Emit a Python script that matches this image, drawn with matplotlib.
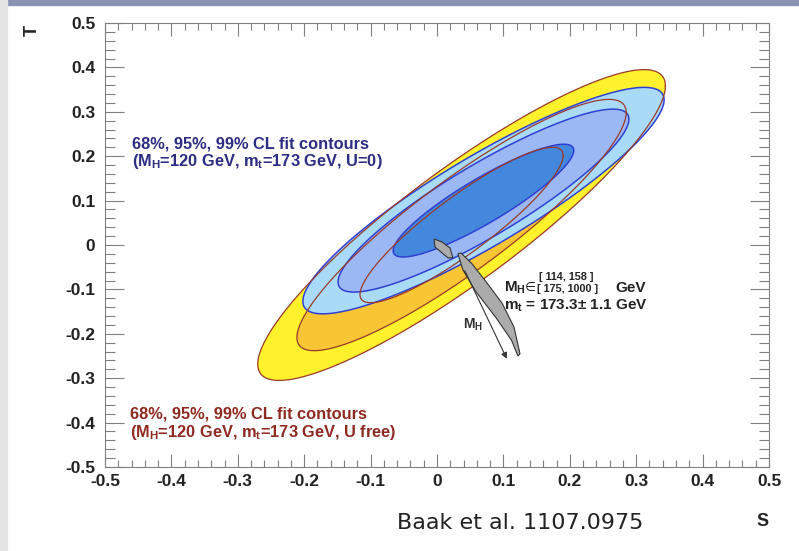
import numpy as np
import matplotlib
matplotlib.use("Agg")
import matplotlib.pyplot as plt
from matplotlib.patches import Polygon, Rectangle
from matplotlib.ticker import MultipleLocator, FuncFormatter

plt.rcParams['font.family'] = ['Liberation Sans', 'DejaVu Sans']
plt.rcParams['mathtext.fontset'] = 'custom'
plt.rcParams['mathtext.rm'] = 'Liberation Sans:bold'
plt.rcParams['mathtext.it'] = 'Liberation Sans:bold'
plt.rcParams['mathtext.bf'] = 'Liberation Sans:bold'

# ---------------- data ----------------
cl_levels = ['99%', '95%', '68%']
# U free fit contours (S, T)
ufree_center = [0.037, 0.045]
ufree_half_s = [0.307, 0.248, 0.153]
ufree_half_t = [0.350, 0.283, 0.175]
ufree_rho = 0.895
# U = 0 fit contours
u0_center = [0.070, 0.100]
u0_half_s = [0.272, 0.219, 0.136]
u0_half_t = [0.255, 0.206, 0.127]
u0_rho = 0.89
# SM prediction bands (S, T vertices)
sm_low_s = [-0.0045, 0.0075, 0.0196, 0.024, 0.0166, -0.003]
sm_low_t = [0.0135, 0.0068, -0.0068, -0.029, -0.029, -0.0045]
sm_high_s = [0.0316, 0.039, 0.058, 0.088, 0.112, 0.122, 0.125, 0.116, 0.098, 0.072, 0.052, 0.036]
sm_high_t = [-0.020, -0.056, -0.104, -0.162, -0.214, -0.250, -0.245, -0.185, -0.131, -0.079, -0.041, -0.018]
mh_arrow_s = [0.040, 0.107]
mh_arrow_t = [-0.052, -0.262]
axis_ticks = [-0.5, -0.4, -0.3, -0.2, -0.1, 0.0, 0.1, 0.2, 0.3, 0.4, 0.5]

# ---------------- colours ----------------
ufree_fill = ['#FFF22C', '#F8C634', '#F8C634']
ufree_edge = '#9A3A2A'
u0_fill = ['#A9DBF8', '#9BB8F5', '#4488DD']
u0_edge = '#2F40D2'


def ellipse(center, hs, ht, rho, n=500):
    t = np.linspace(0, 2 * np.pi, n)
    phi = np.arccos(rho)
    return center[0] + hs * np.cos(t), center[1] + ht * np.cos(t - phi)


fig = plt.figure(figsize=(7.99, 5.51), dpi=100)
fig.patch.set_facecolor('white')
# slide-like borders
fig.patches.append(Rectangle((0, 1 - 5 / 551), 1, 5 / 551, transform=fig.transFigure,
                             color='#8a93b4', zorder=0))
fig.patches.append(Rectangle((0, 0), 7 / 799, 1, transform=fig.transFigure,
                             color='#e4e4e4', zorder=0))

ax = fig.add_axes([105 / 799, 1 - 467 / 551, 664 / 799, 444 / 551])

# U free filled contours
for i in range(3):
    xs, ys = ellipse(ufree_center, ufree_half_s[i], ufree_half_t[i], ufree_rho)
    ax.fill(xs, ys, color=ufree_fill[i], zorder=1 + i, lw=0)
# U = 0 filled contours
for i in range(3):
    xs, ys = ellipse(u0_center, u0_half_s[i], u0_half_t[i], u0_rho)
    ax.fill(xs, ys, facecolor=u0_fill[i], edgecolor=u0_edge, lw=1.1, zorder=4 + i)
# U free outlines on top
for i in range(3):
    xs, ys = ellipse(ufree_center, ufree_half_s[i], ufree_half_t[i], ufree_rho)
    ax.plot(xs, ys, color=ufree_edge, lw=0.9, zorder=8)

# SM prediction
ax.add_patch(Polygon(np.column_stack([sm_low_s, sm_low_t]), closed=True,
                     facecolor='#ababab', edgecolor='#333333', lw=0.8, zorder=10))
ax.add_patch(Polygon(np.column_stack([sm_high_s, sm_high_t]), closed=True,
                     facecolor='#ababab', edgecolor='#333333', lw=0.8, zorder=10))
ax.annotate('', xy=(mh_arrow_s[1], mh_arrow_t[1]), xytext=(mh_arrow_s[0], mh_arrow_t[0]),
            arrowprops=dict(arrowstyle='-|>', color='#333333', lw=0.8,
                            mutation_scale=9), zorder=11)

# annotations
ax.text(0.054, -0.180, r'M$_{\mathrm{H}}$', fontsize=10, fontweight='bold',
        color='#333333', ha='center', va='center', zorder=12)
ax.text(0.101, -0.106, r'M$_{\mathrm{H}}$', fontsize=11, fontweight='bold',
        color='#222222', ha='left', va='baseline', zorder=12)
ax.text(0.133, -0.104, '\u2208', fontsize=9, color='#222222', ha='left', va='baseline',
        family=['DejaVu Sans'], zorder=12)
ax.text(0.153, -0.072, '[ 114, 158 ]', fontsize=7.8, fontweight='bold', color='#222222',
        ha='left', va='center', zorder=12)
ax.text(0.150, -0.099, '[ 175, 1000 ]', fontsize=7.8, fontweight='bold', color='#222222',
        ha='left', va='center', zorder=12)
ax.text(0.268, -0.106, 'GeV', fontsize=11, fontweight='bold', color='#222222',
        ha='left', va='baseline', zorder=12)
ax.text(0.101, -0.146, r'm$_{\mathrm{t}}$ = 173.3$\pm$ 1.1 GeV', fontsize=11,
        fontweight='bold', color='#222222', ha='left', va='baseline', zorder=12)

blue_txt = '#2C2C82'
red_txt = '#8E2A22'
ax.text(-0.459, 0.218, '68%, 95%, 99% CL fit contours', fontsize=11.8, fontweight='bold',
        color=blue_txt, ha='left', va='baseline', zorder=12)
ax.text(-0.459, 0.178, r'(M$_{\mathrm{H}}$=120 GeV, m$_{\mathrm{t}}$=173 GeV, U=0)',
        fontsize=11.8, fontweight='bold', color=blue_txt, ha='left', va='baseline', zorder=12)
ax.text(-0.462, -0.390, '68%, 95%, 99% CL fit contours', fontsize=11.8, fontweight='bold',
        color=red_txt, ha='left', va='baseline', zorder=12)
ax.text(-0.462, -0.432, r'(M$_{\mathrm{H}}$=120 GeV, m$_{\mathrm{t}}$=173 GeV, U free)',
        fontsize=11.8, fontweight='bold', color=red_txt, ha='left', va='baseline', zorder=12)

# axes styling
ax.set_xlim(-0.5, 0.5)
ax.set_ylim(-0.5, 0.5)
ax.set_xticks(axis_ticks)
ax.set_yticks(axis_ticks)
ax.xaxis.set_minor_locator(MultipleLocator(0.02))
ax.yaxis.set_minor_locator(MultipleLocator(0.02))
fmt = FuncFormatter(lambda v, p: '0' if abs(v) < 1e-9 else f'{v:.1f}')
ax.xaxis.set_major_formatter(fmt)
ax.yaxis.set_major_formatter(fmt)
for s in ax.spines.values():
    s.set_color('#808080')
    s.set_linewidth(0.8)
ax.tick_params(axis='both', which='both', direction='in', top=True, right=True,
               color='#808080', width=0.8)
ax.tick_params(axis='x', which='major', length=9.5, pad=5)
ax.tick_params(axis='x', which='minor', length=5)
ax.tick_params(axis='y', which='major', length=14, pad=7)
ax.tick_params(axis='y', which='minor', length=7)
for lab in ax.get_xticklabels() + ax.get_yticklabels():
    lab.set_fontweight('bold')
    lab.set_fontsize(12.5)
    lab.set_color('#222222')

fig.text(763 / 799, 1 - 522 / 551, 'S', fontsize=13, fontweight='bold', color='#222222',
         ha='center', va='center')
fig.text(32 / 799, 1 - 30 / 551, 'T', fontsize=13, fontweight='bold', color='#222222',
         ha='center', va='center', rotation=90)
fig.text(520 / 799, 1 - 523 / 551, 'Baak et al. 1107.0975', fontsize=16,
         family=['DejaVu Sans'], color='#222222', ha='center', va='center')

fig.savefig('out.png', dpi=100, facecolor=fig.get_facecolor())
